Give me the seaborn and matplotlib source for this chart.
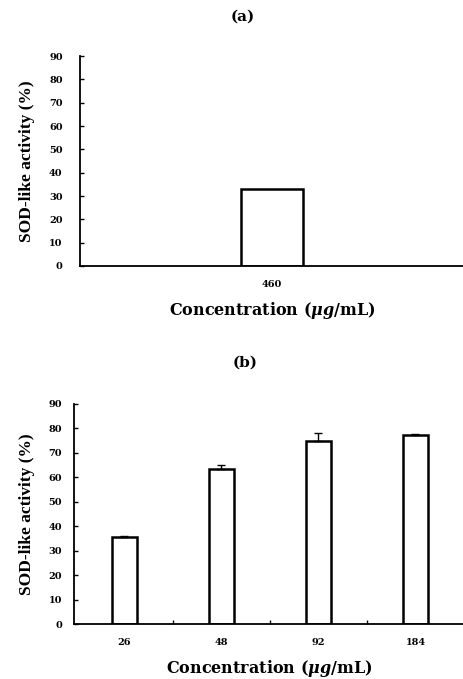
import seaborn as sns
import pandas as pd
import matplotlib.pyplot as plt

# ------------------------------ data ------------------------------

conc_a = ["460"]
sod_a = [33.0]

conc_b = ["26", "48", "92", "184"]
sod_b = [35.5, 63.5, 75.0, 77.5]
err_b = [0.4, 1.6, 3.0, 0.3]

y_ticks = [0, 10, 20, 30, 40, 50, 60, 70, 80, 90]

df_a = pd.DataFrame({"conc": conc_a, "sod": sod_a})
df_b = pd.DataFrame({"conc": conc_b, "sod": sod_b, "err": err_b})

# ------------------------------ style ------------------------------

sns.set_style("ticks")
plt.rcParams["font.family"] = ["DejaVu Serif"]
plt.rcParams["font.weight"] = "bold"
plt.rcParams["axes.labelweight"] = "bold"
for key in ("text.color", "axes.labelcolor", "xtick.color", "ytick.color", "axes.edgecolor"):
    plt.rcParams[key] = "black"
plt.rcParams["mathtext.fontset"] = "custom"
plt.rcParams["mathtext.rm"] = "DejaVu Serif:bold"
plt.rcParams["mathtext.it"] = "DejaVu Serif:italic:bold"

fig = plt.figure(figsize=(4.64, 6.79), dpi=100)
ax_a = fig.add_axes([80 / 464, 1 - 266 / 679, 384 / 464, 210 / 679])
ax_b = fig.add_axes([74 / 464, 1 - 624 / 679, 390 / 464, 220 / 679])

xlab = r"Concentration ($\mu g$/mL)"

# ------------------------------ panel (a) ------------------------------

sns.barplot(data=df_a, x="conc", y="sod", color="white", edgecolor="black",
            linewidth=1.8, width=0.164, saturation=1, errorbar=None, ax=ax_a)
ax_a.set_xlim(-0.5, 0.5)

# ------------------------------ panel (b) ------------------------------

sns.barplot(data=df_b, x="conc", y="sod", color="white", edgecolor="black",
            linewidth=1.8, width=0.26, saturation=1, errorbar=None, ax=ax_b)
ax_b.errorbar(range(len(conc_b)), sod_b, yerr=[[0] * len(err_b), err_b],
              fmt="none", ecolor="black", elinewidth=1, capsize=3, capthick=1)
ax_b.set_xlim(-0.52, 3.5)
ax_b.set_xticks([0.5, 1.5, 2.5], minor=True)
ax_b.tick_params(axis="x", which="minor", direction="in", length=3, width=1)

for ax in (ax_a, ax_b):
    ax.set_ylim(0, 90)
    ax.set_yticks(y_ticks)
    sns.despine(ax=ax)
    for s in ("left", "bottom"):
        ax.spines[s].set_linewidth(1.3)
    ax.tick_params(axis="y", direction="in", length=3, width=1, labelsize=7)
    ax.tick_params(axis="x", which="major", length=0, labelsize=7, pad=10)
    ax.set_xlabel(xlab, fontsize=11.5)
    ax.set_ylabel("SOD-like activity (%)", fontsize=12.5, family="Liberation Serif")

ax_a.tick_params(axis="y", pad=12.5)
ax_b.tick_params(axis="y", pad=8.5)

ax_a.yaxis.set_label_coords(-0.117, 0.5)
ax_b.yaxis.set_label_coords(-0.10, 0.5)
ax_a.xaxis.set_label_coords(0.5, -0.16)
ax_b.xaxis.set_label_coords(0.5, -0.155)

fig.text(243 / 464, 1 - 17 / 679, "(a)", ha="center", va="center", fontsize=11)
fig.text(245 / 464, 1 - 363 / 679, "(b)", ha="center", va="center", fontsize=11)

fig.savefig("out.png", dpi=100)
